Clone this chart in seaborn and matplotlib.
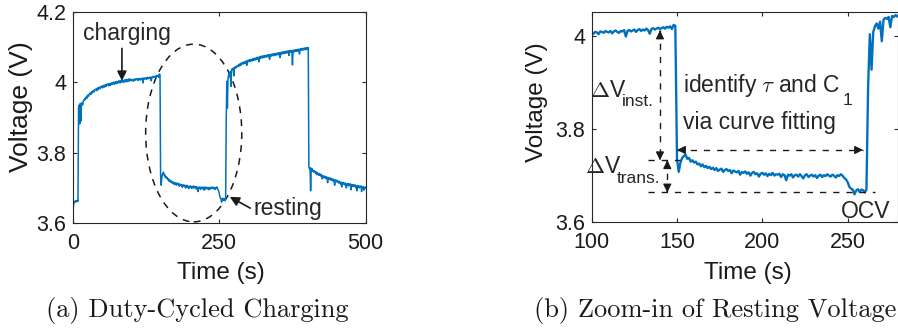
import numpy as np
import pandas as pd
import matplotlib
matplotlib.use("Agg")
import matplotlib.pyplot as plt
import seaborn as sns
from matplotlib.patches import Ellipse, Rectangle

# ---- measured terminal voltage, 1 Hz sampling, in mV ----
SAMPLE_PERIOD_S = 1.0

rest0_mv = [3600, 3645, 3658, 3662, 3660, 3664, 3661, 3663, 3665, 3662]

charge1_mv = [
    3928, 3935, 3882, 3940, 3890, 3938, 3942, 3936, 3946, 3948,
    3952, 3950, 3956, 3958, 3954, 3962, 3964, 3960, 3966, 3968,
    3970, 3965, 3972, 3974, 3970, 3976, 3977, 3973, 3979, 3980,
    3981, 3976, 3983, 3984, 3979, 3985, 3986, 3982, 3988, 3987,
    3989, 3984, 3990, 3991, 3986, 3992, 3993, 3988, 3994, 3993,
    3995, 3990, 3996, 3995, 3991, 3997, 3998, 3993, 3998, 3999,
    4000, 3994, 4000, 4001, 3996, 4002, 4001, 3997, 4003, 4002,
    4004, 3998, 4003, 4005, 4000, 4006, 4004, 3999, 4006, 4007,
    4006, 4001, 4008, 4007, 4002, 4008, 4009, 4003, 4009, 4008,
    4006, 4004, 4008, 4007, 4003, 4009, 4008, 4006, 4010, 4008,
    4007, 4010, 4005, 4009, 4011, 4008, 4006, 4010, 4009, 4012,
    3998, 4010, 4012, 4009, 4011, 4013, 4008, 4012, 4014, 4010,
    4013, 4011, 4015, 4012, 4004, 4014, 4016, 4013, 4015, 4017,
    4014, 4016, 4018, 4015, 4019, 4017, 4020, 4014, 4023, 4021,
]

rest1_mv = [
    3735, 3708, 3728, 3738, 3742, 3745, 3736, 3738, 3730, 3733,
    3728, 3730, 3724, 3726, 3720, 3724, 3718, 3721, 3716, 3719,
    3714, 3717, 3712, 3716, 3710, 3713, 3715, 3708, 3712, 3714,
    3710, 3712, 3705, 3711, 3709, 3707, 3710, 3702, 3708, 3706,
    3709, 3704, 3707, 3700, 3706, 3708, 3703, 3705, 3698, 3704,
    3706, 3702, 3705, 3699, 3704, 3701, 3706, 3700, 3703, 3702,
    3704, 3697, 3703, 3701, 3690, 3702, 3700, 3703, 3696, 3701,
    3702, 3698, 3703, 3699, 3694, 3701, 3703, 3697, 3700, 3702,
    3698, 3701, 3695, 3700, 3702, 3697, 3701, 3699, 3703, 3700,
    3698, 3702, 3700, 3696, 3701, 3699, 3703, 3700, 3695, 3692,
    3686, 3676, 3672, 3670, 3660, 3668, 3671, 3665, 3670, 3669,
    3664, 3670,
]

charge2_mv = [
    3893, 4003, 3927, 4008, 4020, 4026, 4015, 4030, 3988, 4034,
    4038, 4036, 4040, 4018, 4042, 4040, 4044, 4041, 4045,
    4047, 4044, 4049, 4051, 4046, 4052, 4054, 4049, 4055, 4056,
    4052, 4057, 4058, 4053, 4059, 4060, 4048, 4061, 4062, 4058,
    4063, 4064, 4059, 4065, 4064, 4060, 4066, 4067, 4062, 4068,
    4067, 4063, 4069, 4070, 4065, 4071, 4070, 4058, 4072, 4073,
    4068, 4073, 4074, 4069, 4075, 4074, 4070, 4076, 4075, 4071,
    4076, 4077, 4072, 4078, 4077, 4065, 4078, 4079, 4074, 4079,
    4080, 4075, 4080, 4081, 4076, 4081, 4082, 4077, 4082, 4083,
    4078, 4083, 4084, 4070, 4084, 4085, 4080, 4085, 4086, 4081,
    4086, 4087, 4082, 4087, 4088, 4083, 4088, 4089, 4076, 4089,
    4090, 4085, 4089, 4090, 4049, 4088, 4091, 4086, 4091, 4092,
    4087, 4092, 4093, 4088, 4092, 4094, 4080, 4093, 4095, 4090,
    4094, 4096, 4091, 4095, 4097, 4092, 4096, 4098, 4093, 4097,
    4095, 4098,
]

rest2_mv = [
    3762, 3755, 3758, 3692, 3752, 3756, 3748, 3751, 3746, 3749,
    3744, 3747, 3741, 3745, 3738, 3743, 3740, 3736, 3741, 3738,
    3734, 3739, 3736, 3726, 3735, 3732, 3729, 3734, 3731, 3727,
    3732, 3729, 3715, 3730, 3727, 3724, 3729, 3726, 3722, 3727,
    3724, 3720, 3725, 3722, 3708, 3723, 3719, 3722, 3717, 3721,
    3718, 3714, 3719, 3716, 3712, 3717, 3703, 3715, 3711, 3716,
    3713, 3709, 3714, 3711, 3700, 3712, 3709, 3713, 3706, 3711,
    3708, 3712, 3695, 3709, 3706, 3710, 3704, 3708, 3705, 3709,
    3701, 3706, 3692, 3707, 3703, 3706, 3700, 3705, 3702, 3706,
    3690, 3703, 3700, 3704, 3694, 3702, 3699, 3703,
]

# axis ticks
a_xticks = [0, 250, 500]
a_yticks = [3.6, 3.8, 4.0, 4.2]
a_yticklabels = ["3.6", "3.8", "4", "4.2"]
b_xticks = [100, 150, 200, 250]
b_yticks = [3.6, 3.8, 4.0]
b_yticklabels = ["3.6", "3.8", "4"]

# fitted quantities marked on the zoomed view
v_before_rest = 4.011      # V just before current is cut
v_after_jump = 3.733       # V right after the instantaneous drop
v_ocv = 3.664              # relaxed open-circuit voltage
v_fit_arrow = 3.755
t_fit_start, t_fit_end = 150, 259

voltage = np.concatenate([rest0_mv, charge1_mv, rest1_mv, charge2_mv, rest2_mv]) / 1000.0
time = np.arange(len(voltage)) * SAMPLE_PERIOD_S
df = pd.DataFrame({"Time (s)": time, "Voltage (V)": voltage})

BLUE = "#0072BD"
INK = "#1a1a1a"
sns.set_theme(style="ticks")
plt.rcParams.update({
    "font.family": ["Liberation Sans", "DejaVu Sans"],
    "mathtext.fontset": "cm",
    "xtick.direction": "in", "ytick.direction": "in",
    "xtick.top": True, "ytick.right": True,
    "axes.edgecolor": "#262626", "axes.linewidth": 0.8,
    "xtick.color": "#262626", "ytick.color": "#262626",
    "xtick.labelcolor": INK, "ytick.labelcolor": INK,
    "xtick.major.size": 3, "ytick.major.size": 3,
    "xtick.major.width": 0.8, "ytick.major.width": 0.8,
    "xtick.labelsize": 15.5, "ytick.labelsize": 15.5,
    "axes.labelsize": 17.5, "axes.labelcolor": INK,
})

W, H = 898, 331
fig = plt.figure(figsize=(W / 100, H / 100), dpi=100)
ax_a = fig.add_axes([72.7 / W, (H - 223.3) / H, 293 / W, 211.6 / H])
ax_b = fig.add_axes([591.7 / W, (H - 222.3) / H, (W - 591.7) / W, 210 / H])

ANN = 16.5

# ---------------- (a) duty-cycled charging ----------------
sns.lineplot(data=df, x="Time (s)", y="Voltage (V)", ax=ax_a, color=BLUE,
             lw=1.1, estimator=None, sort=False)
ax_a.set_xlim(0, 500)
ax_a.set_ylim(3.6, 4.2)
ax_a.set_xticks(a_xticks)
ax_a.set_xticklabels([str(v) for v in a_xticks])
ax_a.set_yticks(a_yticks)
ax_a.set_yticklabels(a_yticklabels)
ax_a.tick_params(axis="x", pad=7)
ax_a.tick_params(axis="y", pad=4.5)
ax_a.set_xlabel("Time (s)", va="center")
ax_a.set_ylabel("Voltage (V)", va="center", fontsize=19)
ax_a.xaxis.set_label_coords(0.506, -0.235)
ax_a.yaxis.set_label_coords(-0.177, 0.55)

ax_a.add_patch(Ellipse((206.5, 3.856), 164, 0.504, fill=False, ec="k",
                       lw=1.1, ls=(0, (4.5, 4))))
ax_a.annotate("", xy=(84, 4.004), xytext=(84, 4.096),
              arrowprops=dict(arrowstyle="-|>", color="k", lw=1.2,
                              mutation_scale=14, shrinkA=0, shrinkB=0))
ax_a.text(92, 4.12, "charging", fontsize=ANN, ha="center", va="baseline")
ax_a.annotate("", xy=(268, 3.675), xytext=(303, 3.643),
              arrowprops=dict(arrowstyle="-|>", color="k", lw=1.2,
                              mutation_scale=14, shrinkA=0, shrinkB=0))
ax_a.text(309, 3.624, "resting", fontsize=ANN, ha="left", va="baseline")

# ---------------- (b) zoom-in of resting voltage ----------------
sns.lineplot(data=df, x="Time (s)", y="Voltage (V)", ax=ax_b, color=BLUE,
             lw=1.7, estimator=None, sort=False)
ax_b.set_xlim(100, 279.5)
ax_b.set_ylim(3.6, 4.05)
ax_b.set_xticks(b_xticks)
ax_b.set_xticklabels([str(v) for v in b_xticks])
ax_b.set_yticks(b_yticks)
ax_b.set_yticklabels(b_yticklabels)
ax_b.tick_params(axis="x", pad=7)
ax_b.tick_params(axis="y", pad=4.5)
ax_b.set_xlabel("Time (s)", va="center")
ax_b.set_ylabel("Voltage (V)", va="center")
ax_b.xaxis.set_label_coords(0.51, -0.241)
ax_b.yaxis.set_label_coords(-0.179, 0.573)

dash = (0, (4.5, 5))
head = dict(arrowstyle="-|>", color="k", lw=1.0, mutation_scale=12,
            shrinkA=0, shrinkB=0)


def dashed_double_arrow(ax, p0, p1):
    ax.plot([p0[0], p1[0]], [p0[1], p1[1]], color="k", lw=1.0, ls=dash)
    dx, dy = (p1[0] - p0[0]) * 0.02, (p1[1] - p0[1]) * 0.02
    ax.annotate("", xy=p0, xytext=(p0[0] + dx, p0[1] + dy), arrowprops=head)
    ax.annotate("", xy=p1, xytext=(p1[0] - dx, p1[1] - dy), arrowprops=head)


# instantaneous drop and transient relaxation
dashed_double_arrow(ax_b, (140, v_before_rest), (140, v_after_jump))
dashed_double_arrow(ax_b, (144.3, v_after_jump), (144.3, v_ocv))
ax_b.plot([133, 152], [v_after_jump + 0.001] * 2, color="k", lw=1.0, ls=dash)
ax_b.plot([133, 266], [v_ocv] * 2, color="k", lw=1.0, ls=dash)
dashed_double_arrow(ax_b, (t_fit_start, v_fit_arrow), (t_fit_end, v_fit_arrow))

SUB = 12.5
ax_b.text(99, 3.869, r"$\Delta$V", fontsize=ANN, ha="left", va="baseline",
          clip_on=False)
ax_b.text(117.6, 3.849, "inst.", fontsize=SUB, ha="left", va="baseline",
          clip_on=False)
ax_b.text(96, 3.705, r"$\Delta$V", fontsize=ANN, ha="left", va="baseline",
          clip_on=False)
ax_b.text(114.7, 3.684, "trans.", fontsize=SUB, ha="left", va="baseline",
          clip_on=False)
ax_b.text(153.5, 3.880, r"identify $\tau$ and C", fontsize=ANN,
          ha="left", va="baseline")
ax_b.text(247.3, 3.852, "1", fontsize=SUB, ha="left", va="baseline")
ax_b.text(153.5, 3.800, "via curve fitting", fontsize=ANN,
          ha="left", va="baseline")
ax_b.text(246, 3.609, "OCV", fontsize=ANN, ha="left", va="baseline")

# the lower edge of panel (b)'s x-label is cut by the caption strip
fig.add_artist(Rectangle((680 / W, 1 - 295 / H), 140 / W, 11.5 / H,
                         transform=fig.transFigure, fc="white", ec="none",
                         zorder=5))

# sub-figure captions
cap_font = dict(family=["cmr10", "DejaVu Serif"], size=19, ha="center",
                va="baseline", color=INK, zorder=6)
fig.text(197.5 / W, 1 - 316.7 / H, "(a) Duty-Cycled Charging", **cap_font)
fig.text(715 / W, 1 - 316.7 / H, "(b) Zoom-in of Resting Voltage", **cap_font)

fig.savefig("out.png", dpi=100, facecolor="white")
